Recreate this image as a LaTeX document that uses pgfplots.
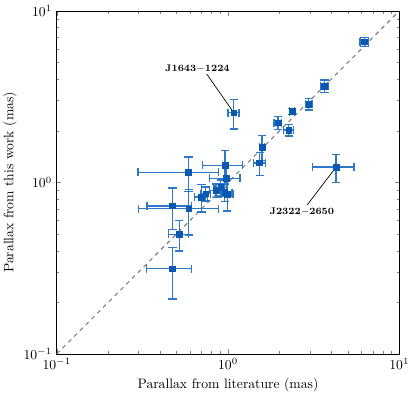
\documentclass[border=0pt]{standalone}
\usepackage{pgfplots}
\usepackage{pgfplotstable}
\pgfplotsset{compat=1.18}
\definecolor{ptblue}{RGB}{10,88,176}
\definecolor{errblue}{RGB}{45,120,200}

% parallax: literature (x) vs this work (y), with 1-sigma errors
\pgfplotstableread{
x      y      ex     ey
6.26   6.62   0.37   0.40
3.66   3.65   0.18   0.30
2.96   2.86   0.13   0.22
2.37   2.59   0.08   0.10
1.96   2.23   0.10   0.19
2.26   2.02   0.16   0.15
1.58   1.61   0.05   0.27
1.53   1.30   0.12   0.20
1.08   2.55   0.08   0.50
4.28   1.23   1.17   0.23
0.96   1.26   0.25   0.28
0.977  1.058  0.20   0.20
0.85   0.90   0.07   0.08
0.907  0.933  0.08   0.10
0.957  0.872  0.10   0.10
0.99   0.853  0.08   0.17
0.70   0.823  0.06   0.15
0.742  0.86   0.05   0.08
0.588  1.147  0.29   0.26
0.59   0.703  0.29   0.21
0.474  0.730  0.137  0.20
0.519  0.499  0.07   0.10
0.474  0.314  0.14   0.105
}\plx

\begin{document}
\begin{tikzpicture}
\begin{axis}[
    name=ax,
    scale only axis,
    width=250.6pt, height=250.9pt,
    xmode=log, ymode=log,
    xmin=0.1, xmax=10, ymin=0.1, ymax=10,
    xtick={0.1,1,10}, ytick={0.1,1,10},
    tick align=inside,
    major tick length=3.5pt,
    minor tick length=2pt,
    xlabel={Parallax from literature (mas)},
    ylabel={Parallax from this work (mas)},
    xlabel style={yshift=1pt},
    ylabel style={yshift=-2pt},
    clip=false,
]

% one-to-one line
\addplot[gray, dashed, thick] coordinates {(0.1,0.1) (10,10)};

% error bars first
\addplot[
    draw=none, mark=none,
    error bars/.cd,
        x dir=both, x explicit,
        y dir=both, y explicit,
        error bar style={color=errblue, line width=1pt},
        error mark options={color=errblue, line width=1pt, mark size=3pt, rotate=90},
] table[x=x, y=y, x error=ex, y error=ey] {\plx};

% markers on top
\addplot[
    only marks,
    mark=square*,
    mark size=2.1pt,
    mark options={fill=ptblue, draw=ptblue},
] table[x=x, y=y] {\plx};

% annotations
\draw[black, line width=0.5pt] (axis cs:0.751,4.29) -- (axis cs:1.08,2.55);
\node[font=\scriptsize\bfseries] at (axis cs:0.663,4.57) {J1643$-$1224};
\draw[black, line width=0.5pt] (axis cs:2.90,0.739) -- (axis cs:4.28,1.23);
\node[font=\scriptsize\bfseries] at (axis cs:2.70,0.67) {J2322$-$2650};
\end{axis}
\pgfresetboundingbox
\path ([xshift=-41.5pt,yshift=-31.5pt]ax.south west) rectangle ([xshift=11.5pt,yshift=8pt]ax.north east);
\end{tikzpicture}
\end{document}
